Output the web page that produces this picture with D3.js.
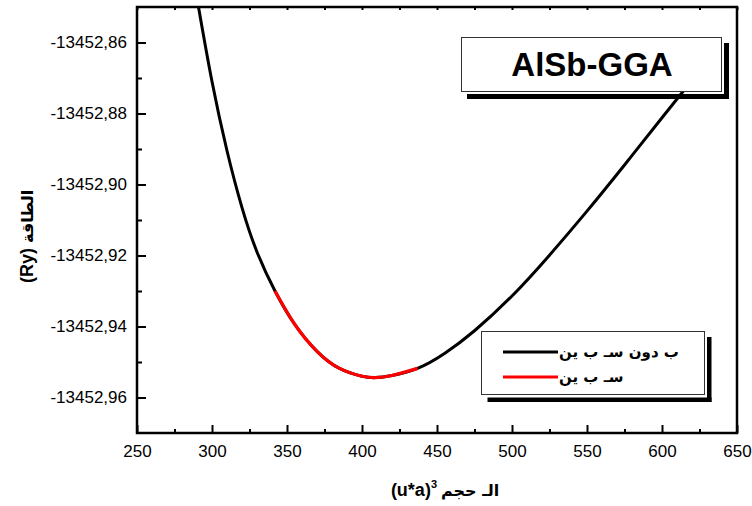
<!DOCTYPE html>
<html>
<head>
<meta charset="utf-8">
<script src="https://cdn.jsdelivr.net/npm/d3@7"></script>
<style>
  body { margin: 0; background: #fff; }
  svg { display: block; font-family: "Liberation Sans", Arial, sans-serif; }
  .tick text { font-size: 17px; fill: #000; }
  .tick line { stroke: #000; stroke-width: 2; }
</style>
</head>
<body>
<div id="vis"></div>
<script>
// data
const volume = [291, 300, 310, 320, 330, 342, 355, 370, 385, 400, 409, 420, 437,
                455, 475, 500, 525, 550, 575, 600, 614, 635];
const energyNoSpin = [-13452.850, -13452.871, -13452.8905, -13452.9065, -13452.9190,
                      -13452.9300, -13452.9393, -13452.9470, -13452.9518, -13452.9540,
                      -13452.9544, -13452.9538, -13452.9518, -13452.9476, -13452.9412,
                      -13452.9314, -13452.9199, -13452.9075, -13452.8945, -13452.8812,
                      -13452.8738, -13452.8628];
const volumeSpin = [342, 355, 370, 385, 400, 409, 420, 437];
const energySpin = [-13452.9300, -13452.9393, -13452.9470, -13452.9518, -13452.9540,
                    -13452.9544, -13452.9538, -13452.9518];

const xTicks = [250, 300, 350, 400, 450, 500, 550, 600, 650];
const xMinor = [275, 325, 375, 425, 475, 525, 575, 625];
const yTicks = [-13452.96, -13452.94, -13452.92, -13452.90, -13452.88, -13452.86];
const yMinor = [-13452.95, -13452.93, -13452.91, -13452.89, -13452.87];

const legendLabels = ["ب دون  سـ ب ين", "سـ ب ين"];
const legendColors = ["#000000", "#ff0000"];
const titleText = "AlSb-GGA";

// frame
const FRAME_WIDTH = 752;
const FRAME_HEIGHT = 506;
const MARGINS = {left: 137, right: 15, top: 7, bottom: 73};
const VIS_WIDTH = FRAME_WIDTH - MARGINS.left - MARGINS.right;
const VIS_HEIGHT = FRAME_HEIGHT - MARGINS.top - MARGINS.bottom;

const FRAME = d3.select("#vis")
  .append("svg")
    .attr("width", FRAME_WIDTH)
    .attr("height", FRAME_HEIGHT);

const X_SCALE = d3.scaleLinear().domain([250, 650]).range([MARGINS.left, MARGINS.left + VIS_WIDTH]);
const Y_SCALE = d3.scaleLinear().domain([-13452.97, -13452.85]).range([MARGINS.top + VIS_HEIGHT, MARGINS.top]);

const commaFmt = d3.formatLocale({decimal: ",", thousands: "", grouping: [3],
                                  currency: ["", ""], minus: "-"}).format(".2f");

FRAME.append("clipPath").attr("id", "plotclip")
  .append("rect")
    .attr("x", MARGINS.left).attr("y", MARGINS.top)
    .attr("width", VIS_WIDTH).attr("height", VIS_HEIGHT);

// curves
const line = d3.line()
  .x((d) => X_SCALE(d[0]))
  .y((d) => Y_SCALE(d[1]))
  .curve(d3.curveNatural);

const plot = FRAME.append("g").attr("clip-path", "url(#plotclip)");
plot.append("path")
  .datum(volume.map((v, i) => [v, energyNoSpin[i]]))
  .attr("d", line)
  .attr("fill", "none").attr("stroke", legendColors[0]).attr("stroke-width", 3);
plot.append("path")
  .datum(volumeSpin.map((v, i) => [v, energySpin[i]]))
  .attr("d", line)
  .attr("fill", "none").attr("stroke", legendColors[1]).attr("stroke-width", 3.2);

// axes (ticks point inward)
const bottomY = MARGINS.top + VIS_HEIGHT;
FRAME.append("g")
  .attr("transform", "translate(0," + bottomY + ")")
  .call(d3.axisBottom(X_SCALE).tickValues(xTicks).tickSize(-8).tickPadding(12))
  .call((g) => g.select(".domain").remove());
FRAME.append("g")
  .attr("transform", "translate(0," + bottomY + ")")
  .call(d3.axisBottom(X_SCALE).tickValues(xMinor).tickSize(-4).tickFormat(""))
  .call((g) => g.select(".domain").remove());
FRAME.append("g")
  .attr("transform", "translate(0," + MARGINS.top + ")")
  .call(d3.axisTop(X_SCALE).tickValues(xTicks.concat(xMinor)).tickSize(-3).tickFormat(""))
  .call((g) => g.select(".domain").remove());

FRAME.append("g")
  .attr("transform", "translate(" + MARGINS.left + ",0)")
  .call(d3.axisLeft(Y_SCALE).tickValues(yTicks).tickSize(-9).tickPadding(10).tickFormat(commaFmt))
  .call((g) => g.select(".domain").remove());
FRAME.append("g")
  .attr("transform", "translate(" + MARGINS.left + ",0)")
  .call(d3.axisLeft(Y_SCALE).tickValues(yMinor).tickSize(-5).tickFormat(""))
  .call((g) => g.select(".domain").remove());

FRAME.selectAll(".tick text").attr("font-family", "Liberation Sans, Arial, sans-serif").attr("font-size", 17);

// plot frame
FRAME.append("rect")
  .attr("x", MARGINS.left).attr("y", MARGINS.top)
  .attr("width", VIS_WIDTH).attr("height", VIS_HEIGHT)
  .attr("fill", "none").attr("stroke", "#000").attr("stroke-width", 2.5);

// axis titles
const xt = FRAME.append("g").attr("font-weight", "bold").attr("font-size", 18);
const xa = xt.append("text").attr("x", 437).attr("y", 496).attr("text-anchor", "end");
xa.append("tspan").text("(u*a)");
xa.append("tspan").attr("font-size", 11).attr("dy", -8).text("3");
xt.append("text").attr("x", 441).attr("y", 496).attr("text-anchor", "start")
  .attr("font-family", "DejaVu Sans").attr("font-size", 16).text("الـ حجم");

const yt = FRAME.append("g").attr("font-weight", "bold").attr("font-size", 18)
  .attr("transform", "translate(33,240) rotate(-90)");
yt.append("text").attr("x", -8).attr("y", 0).attr("text-anchor", "end").text("(Ry)");
yt.append("text").attr("x", -3).attr("y", 0).attr("text-anchor", "start")
  .attr("font-family", "DejaVu Sans").attr("font-size", 16).text("الطاقة");

// title box
FRAME.append("rect").attr("x", 467).attr("y", 94).attr("width", 262).attr("height", 5).attr("fill", "#000");
FRAME.append("rect").attr("x", 724).attr("y", 43).attr("width", 5).attr("height", 56).attr("fill", "#000");
FRAME.append("rect").attr("x", 461.5).attr("y", 37.5).attr("width", 260).attr("height", 54)
  .attr("fill", "#fff").attr("stroke", "#333").attr("stroke-width", 1);
FRAME.append("text").attr("x", 592).attr("y", 76).attr("text-anchor", "middle")
  .attr("font-weight", "bold").attr("font-size", 33).text(titleText);

// legend
const LEG = {x: 481.5, y: 331.5, w: 223, h: 63};
FRAME.append("rect").attr("x", LEG.x + 6).attr("y", 397.5).attr("width", 224).attr("height", 4.5).attr("fill", "#000");
FRAME.append("rect").attr("x", 707).attr("y", 337).attr("width", 4.5).attr("height", 65).attr("fill", "#000");
FRAME.append("rect").attr("x", LEG.x).attr("y", LEG.y).attr("width", LEG.w).attr("height", LEG.h)
  .attr("fill", "#fff").attr("stroke", "#333").attr("stroke-width", 1);

const items = FRAME.selectAll(".leg")
  .data(legendLabels)
  .enter()
  .append("g")
    .attr("class", "leg")
    .attr("transform", (d, i) => "translate(503," + (352 + i * 25) + ")");
items.append("line")
  .attr("x1", 0).attr("x2", 55).attr("y1", 0).attr("y2", 0)
  .attr("stroke", (d, i) => legendColors[i]).attr("stroke-width", 3);
items.append("text")
  .attr("x", 56).attr("y", 5)
  .attr("direction", "ltr")
  .attr("font-family", "DejaVu Sans").attr("font-weight", "bold").attr("font-size", 15)
  .text((d) => d);
</script>
</body>
</html>
